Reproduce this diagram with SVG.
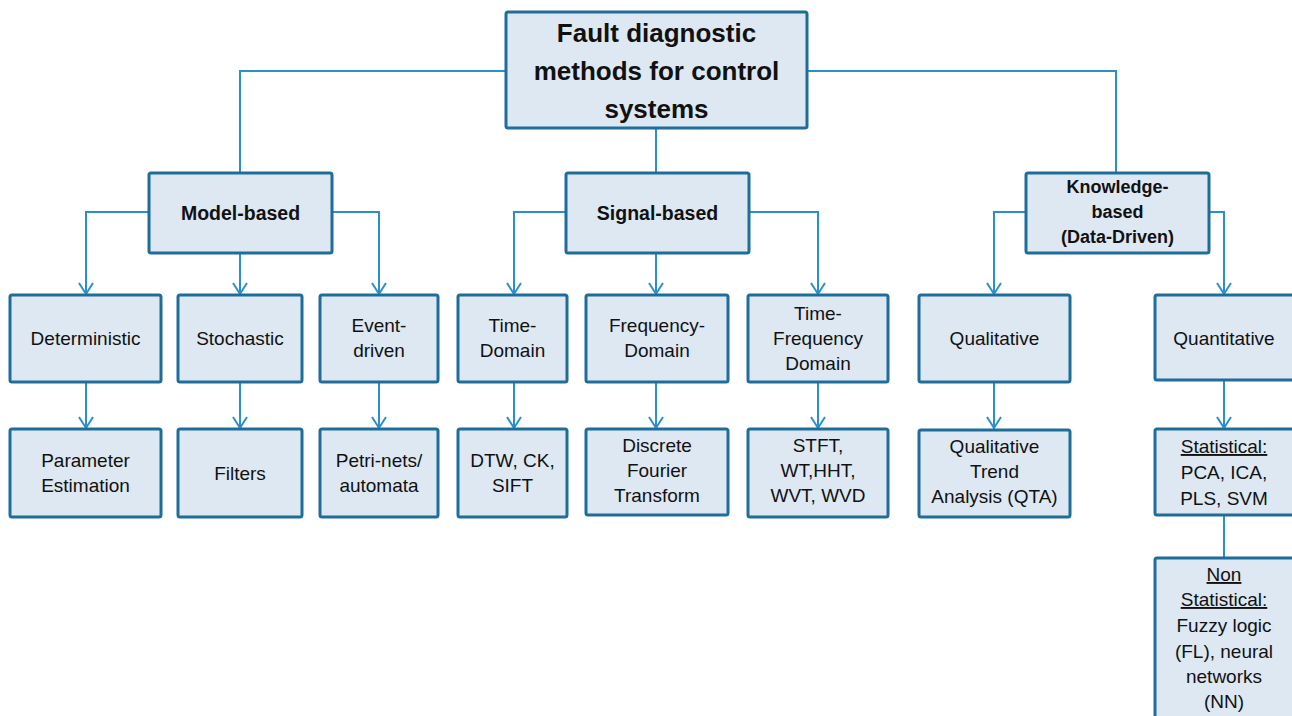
<svg xmlns="http://www.w3.org/2000/svg" width="1292" height="716" viewBox="0 0 1292 716">
<defs>
<marker id="arr" markerUnits="userSpaceOnUse" markerWidth="16" markerHeight="18" viewBox="-14 -9 16 18" refX="0" refY="0" orient="auto">
<path d="M-12,-7 L-1,0 L-12,7" fill="none" stroke="#2b8fcb" stroke-width="2"/>
</marker>
<style>
.box{fill:#dde8f3;stroke:#1f6d9b;stroke-width:3}
.c{fill:none;stroke:#2b8fcb;stroke-width:2}
.a{marker-end:url(#arr)}
text{font-family:"Liberation Sans",Arial,sans-serif;font-size:19px;fill:#111;text-anchor:middle}
.b{font-weight:bold;font-size:18px}
.bb{font-weight:bold;font-size:19.5px}
.t{font-weight:bold;font-size:26px}
</style>
</defs>
<rect width="1292" height="716" fill="#ffffff"/>
<g id="connectors">
<polyline class="c" points="240,173 240,71 506,71"/>
<polyline class="c" points="807,71 1116,71 1116,173"/>
<line class="c" x1="656" y1="128" x2="656" y2="173"/>
<polyline class="c a" points="149,212 86,212 86,295"/>
<polyline class="c a" points="332,212 379,212 379,295"/>
<polyline class="c a" points="240,253 240,295"/>
<polyline class="c a" points="566,212 514,212 514,295"/>
<polyline class="c a" points="656,253 656,295"/>
<polyline class="c a" points="749,212 818,212 818,295"/>
<polyline class="c a" points="1026,212 994,212 994,295"/>
<polyline class="c a" points="1209,212 1224,212 1224,295"/>
<polyline class="c a" points="86,382 86,429"/>
<polyline class="c a" points="240,382 240,429"/>
<polyline class="c a" points="379,382 379,429"/>
<polyline class="c a" points="514,382 514,429"/>
<polyline class="c a" points="656,382 656,429"/>
<polyline class="c a" points="818,382 818,429"/>
<polyline class="c a" points="994,382 994,429"/>
<polyline class="c a" points="1224,380 1224,429"/>
<line class="c" x1="1224" y1="515" x2="1224" y2="558"/>
</g>
<g id="root"><rect class="box" x="506" y="12" width="301" height="116" rx="2"/>
<text class="t" x="656.5" y="42">Fault diagnostic</text>
<text class="t" x="656.5" y="80">methods for control</text>
<text class="t" x="656.5" y="118">systems</text></g>
<g id="model"><rect class="box" x="149" y="173" width="183" height="80" rx="2"/><text class="bb" x="240.5" y="220">Model-based</text></g>
<g id="signal"><rect class="box" x="566" y="173" width="183" height="80" rx="2"/><text class="bb" x="657.5" y="220">Signal-based</text></g>
<g id="knowledge"><rect class="box" x="1026" y="173" width="183" height="80" rx="2"/>
<text class="b" x="1117.5" y="193">Knowledge-</text><text class="b" x="1117.5" y="218">based</text><text class="b" x="1117.5" y="243">(Data-Driven)</text></g>
<g id="deterministic"><rect class="box" x="10" y="295" width="151" height="87" rx="2"/><text x="85.5" y="345">Deterministic</text></g>
<g id="stochastic"><rect class="box" x="178" y="295" width="124" height="87" rx="2"/><text x="240" y="345">Stochastic</text></g>
<g id="event"><rect class="box" x="320" y="295" width="118" height="87" rx="2"/><text x="379" y="332">Event-</text><text x="379" y="357">driven</text></g>
<g id="timedomain"><rect class="box" x="458" y="295" width="109" height="87" rx="2"/><text x="512.5" y="332">Time-</text><text x="512.5" y="357">Domain</text></g>
<g id="freqdomain"><rect class="box" x="586" y="295" width="142" height="87" rx="2"/><text x="657" y="332">Frequency-</text><text x="657" y="357">Domain</text></g>
<g id="tfdomain"><rect class="box" x="748" y="295" width="140" height="87" rx="2"/><text x="818" y="320">Time-</text><text x="818" y="345">Frequency</text><text x="818" y="370">Domain</text></g>
<g id="qualitative"><rect class="box" x="919" y="295" width="151" height="87" rx="2"/><text x="994.5" y="345">Qualitative</text></g>
<g id="quantitative"><rect class="box" x="1155" y="295" width="145" height="85" rx="2"/><text x="1224" y="345">Quantitative</text></g>
<g id="param"><rect class="box" x="10" y="429" width="151" height="88" rx="2"/><text x="85.5" y="467">Parameter</text><text x="85.5" y="492">Estimation</text></g>
<g id="filters"><rect class="box" x="178" y="429" width="124" height="88" rx="2"/><text x="240" y="480">Filters</text></g>
<g id="petri"><rect class="box" x="320" y="429" width="118" height="88" rx="2"/><text x="379" y="467">Petri-nets/</text><text x="379" y="492">automata</text></g>
<g id="dtw"><rect class="box" x="458" y="429" width="109" height="88" rx="2"/><text x="512.5" y="467">DTW, CK,</text><text x="512.5" y="492">SIFT</text></g>
<g id="dft"><rect class="box" x="586" y="429" width="142" height="86" rx="2"/><text x="657" y="452">Discrete</text><text x="657" y="477">Fourier</text><text x="657" y="502">Transform</text></g>
<g id="stft"><rect class="box" x="748" y="429" width="140" height="88" rx="2"/><text x="818" y="452">STFT,</text><text x="818" y="477">WT,HHT,</text><text x="818" y="502">WVT, WVD</text></g>
<g id="qta"><rect class="box" x="919" y="430" width="151" height="87" rx="2"/><text x="994.5" y="453">Qualitative</text><text x="994.5" y="478">Trend</text><text x="994.5" y="503">Analysis (QTA)</text></g>
<g id="statistical"><rect class="box" x="1155" y="429" width="145" height="86" rx="2"/><text x="1224" y="453" text-decoration="underline">Statistical:</text><text x="1224" y="479">PCA, ICA,</text><text x="1224" y="505">PLS, SVM</text></g>
<g id="nonstatistical"><rect class="box" x="1155" y="558" width="145" height="180" rx="2"/><text x="1224" y="581" text-decoration="underline">Non</text><text x="1224" y="606" text-decoration="underline">Statistical:</text><text x="1224" y="632">Fuzzy logic</text><text x="1224" y="658">(FL), neural</text><text x="1224" y="683">networks</text><text x="1224" y="708">(NN)</text></g>
</svg>
